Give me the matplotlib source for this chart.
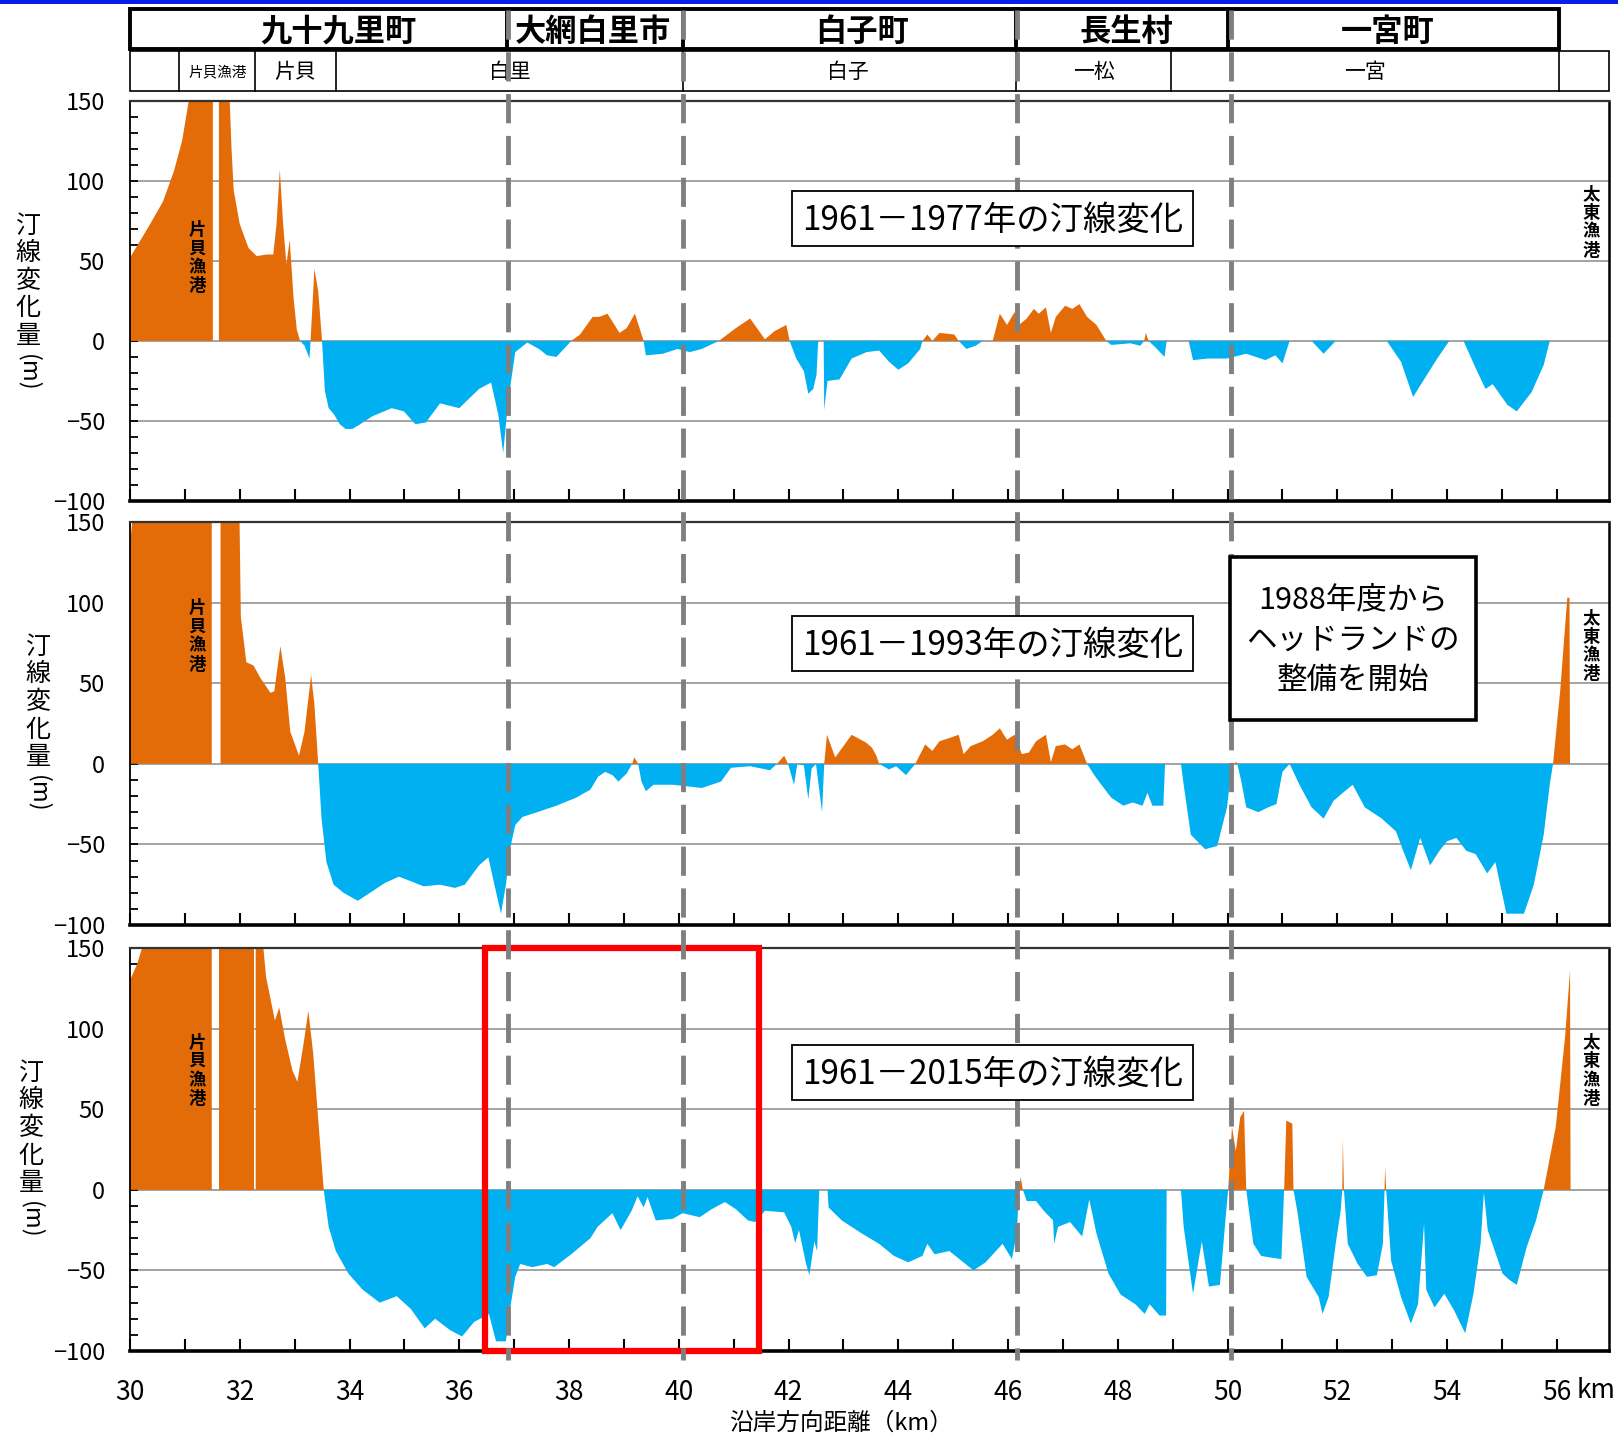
#!/usr/bin/env python3

import numpy as np
import matplotlib
matplotlib.use('Agg')
import matplotlib.pyplot as plt
from matplotlib.patches import Rectangle
from matplotlib.ticker import MultipleLocator

plt.rcParams['font.family'] = ['Noto Sans CJK JP', 'DejaVu Sans']

nan = np.nan

# shoreline change (m) along the coast (km), 1961-1977
km_1977 = [30.00, 30.35, 30.60, 30.80, 30.95, 31.07, 31.15, 31.51, 31.52, 31.62, 31.80, 31.85,
           31.89, 32.00, 32.16, 32.31, 32.49, 32.61, 32.67, 32.73, 32.79, 32.85, 32.91, 32.94,
           32.98, 33.04, 33.10, 33.18, 33.27, 33.29, 33.36, 33.43, 33.50, 33.55, 33.62, 33.72,
           33.82, 33.93, 34.05, 34.15, 34.42, 34.77, 34.99, 35.20, 35.39, 35.65, 36.00, 36.36,
           36.58, 36.71, 36.80, 36.89, 37.02, 37.24, 37.45, 37.60, 37.77, 38.04, 38.20, 38.43,
           38.55, 38.70, 38.92, 39.05, 39.20, 39.36, 39.40, 39.71, 39.98, 40.20, 40.42, 40.73,
           41.04, 41.30, 41.57, 41.74, 41.96, 42.02, 42.14, 42.28, 42.36, 42.45, 42.51, 42.54,
           42.64, 42.65, 42.71, 42.93, 43.15, 43.42, 43.65, 43.83, 44.00, 44.18, 44.40, 44.44,
           44.53, 44.62, 44.75, 45.02, 45.10, 45.24, 45.41, 45.54, 45.72, 45.85, 45.98, 46.12,
           46.20, 46.34, 46.47, 46.56, 46.69, 46.78, 46.87, 47.04, 47.17, 47.30, 47.44, 47.61,
           47.79, 47.88, 48.23, 48.41, 48.48, 48.51, 48.56, 48.67, 48.85, 48.89, 49.29, 49.37,
           49.64, 49.99, 50.34, 50.69, 50.87, 51.00, 51.13, 51.53, 51.75, 51.97, 52.90, 53.16,
           53.38, 53.60, 53.82, 54.04, 54.30, 54.52, 54.70, 54.83, 55.10, 55.27, 55.54, 55.76,
           55.87]
dy_1977 = [52, 72, 87, 106, 125, 150, 165, 165, nan, 165, 165, 120,
           94, 73, 58, 53, 54, 54, 73, 107, 73, 48, 63, 48,
           27, 7, 0, -3, -11, 0, 45, 31, 0, -31, -42, -46,
           -52, -55, -55, -53, -47, -42, -44, -52, -51, -39, -42, -30,
           -26, -46, -70, -38, -7, -1, -5, -9, -10, 0, 4, 15,
           15, 17, 5, 8, 17, 0, -9, -8, -5, -7, -5, 0,
           8, 14, 1, 6, 10, 0, -11, -19, -33, -30, -21, 0,
           0, -43, -25, -24, -11, -7, -6, -13, -18, -14, -5, 0,
           4, 0, 5, 4, 0, -5, -3, 0, 0, 17, 10, 18,
           10, 14, 20, 17, 21, 5, 15, 22, 20, 23, 15, 10,
           0, -2.5, -1.5, -3, 0, 5, 0, -3.5, -10, 0, 0, -12,
           -11, -11, -8, -12, -9, -14, 0, 0, -8, 0, 0, -13,
           -35, -23, -11, 0, 0, -17, -30, -27, -40, -44, -32, -15,
           0]

# 1961-1993
km_1993 = [30.00, 30.04, 30.08, 31.49, 31.50, 31.65, 31.99, 32.02, 32.12, 32.25, 32.38, 32.56,
           32.63, 32.74, 32.83, 32.92, 33.08, 33.18, 33.30, 33.36, 33.43, 33.49, 33.58, 33.71,
           33.89, 34.15, 34.42, 34.64, 34.90, 35.13, 35.35, 35.65, 35.92, 36.10, 36.36, 36.53,
           36.64, 36.76, 36.85, 36.93, 37.02, 37.15, 37.42, 37.77, 38.13, 38.39, 38.53, 38.66,
           38.79, 38.90, 39.05, 39.15, 39.19, 39.26, 39.32, 39.40, 39.54, 39.89, 40.16, 40.42,
           40.77, 40.95, 41.30, 41.66, 41.79, 41.92, 41.99, 42.10, 42.16, 42.28, 42.36, 42.42,
           42.50, 42.61, 42.65, 42.70, 42.85, 42.98, 43.15, 43.42, 43.52, 43.60, 43.65, 43.83,
           43.96, 44.14, 44.31, 44.49, 44.62, 44.75, 44.93, 45.10, 45.19, 45.32, 45.54, 45.72,
           45.85, 45.98, 46.12, 46.25, 46.38, 46.51, 46.69, 46.78, 46.87, 47.04, 47.17, 47.30,
           47.44, 47.57, 47.70, 47.88, 48.10, 48.27, 48.45, 48.54, 48.63, 48.83, 48.86, 49.15,
           49.20, 49.33, 49.59, 49.81, 49.99, 50.08, 50.17, 50.25, 50.34, 50.56, 50.74, 50.89,
           51.00, 51.13, 51.31, 51.53, 51.75, 51.93, 52.10, 52.28, 52.50, 52.81, 53.07, 53.20,
           53.34, 53.51, 53.69, 53.86, 54.00, 54.17, 54.35, 54.52, 54.73, 54.88, 55.08, 55.40,
           55.58, 55.76, 55.87, 55.93, 56.06, 56.19, 56.23, 56.24]
dy_1993 = [136, 150, 165, 165, nan, 165, 165, 91, 63, 61, 53, 44,
           45, 73, 53, 20, 5, 20, 55, 37, 0, -34, -61, -75,
           -80, -85, -79, -74, -70, -73, -76, -75, -77, -75, -63, -58,
           -75, -93, -75, -52, -38, -33, -30, -26, -21, -16, -8, -5,
           -7, -11, -6, 0, 4, 0, -11, -17, -13, -13, -14, -15,
           -11, -2.5, -1.5, -4, 0, 5, 0, -13, 0, -1, -22, -3,
           0, -30, 0, 18, 4, 10, 18, 13, 10, 5, 0, -3.5,
           -1.5, -7, 0, 12, 8, 14, 16, 18, 6, 11, 14, 18,
           22, 15, 18, 6, 7, 14, 18, 1, 11, 12, 9, 12,
           0, -7, -13, -21, -26, -24, -26, -18, -26, -26, 0, 0,
           -13, -44, -53, -51, -27, 0, 1, -11, -27, -30, -27, -25,
           -5, 0, -13, -27, -34, -23, -18, -13, -27, -34, -42, -54,
           -66, -46, -63, -54, -48, -46, -54, -56, -68, -61, -93, -93,
           -75, -44, -13, 0, 45, 103, 103, 0]

# 1961-2015
km_2015 = [30.00, 30.13, 30.22, 30.28, 31.49, 31.50, 31.63, 32.255, 32.265, 32.29, 32.39, 32.48,
           32.64, 32.72, 32.83, 32.96, 33.05, 33.16, 33.25, 33.34, 33.44, 33.53, 33.62, 33.75,
           33.98, 34.24, 34.55, 34.86, 35.12, 35.37, 35.56, 35.83, 36.05, 36.27, 36.54, 36.67,
           36.85, 36.93, 37.02, 37.11, 37.33, 37.60, 37.73, 38.04, 38.39, 38.52, 38.79, 38.94,
           39.14, 39.25, 39.36, 39.43, 39.58, 39.89, 40.07, 40.38, 40.60, 40.84, 41.04, 41.26,
           41.39, 41.57, 41.92, 42.05, 42.12, 42.19, 42.32, 42.38, 42.47, 42.52, 42.56, 42.71,
           42.73, 42.97, 43.33, 43.65, 43.92, 44.18, 44.44, 44.53, 44.66, 44.93, 45.15, 45.37,
           45.59, 45.90, 46.07, 46.16, 46.20, 46.23, 46.27, 46.34, 46.51, 46.65, 46.82, 46.84,
           46.91, 47.13, 47.35, 47.48, 47.61, 47.83, 48.05, 48.32, 48.49, 48.58, 48.76, 48.88,
           48.89, 49.15, 49.20, 49.37, 49.53, 49.66, 49.86, 49.95, 50.01, 50.08, 50.15, 50.23,
           50.30, 50.34, 50.39, 50.47, 50.61, 50.78, 50.98, 51.03, 51.07, 51.18, 51.20, 51.27,
           51.44, 51.66, 51.73, 51.84, 51.97, 52.06, 52.09, 52.10, 52.12, 52.19, 52.37, 52.54,
           52.72, 52.83, 52.86, 52.87, 52.89, 52.98, 53.16, 53.34, 53.47, 53.58, 53.62, 53.77,
           53.95, 54.13, 54.33, 54.48, 54.61, 54.67, 54.74, 54.88, 55.01, 55.14, 55.27, 55.45,
           55.62, 55.76, 55.98, 56.15, 56.24, 56.25]
dy_2015 = [130, 140, 150, 165, 165, nan, 165, 165, nan, 165, 165, 132,
           105, 113, 93, 74, 67, 90, 111, 84, 39, 0, -23, -38,
           -52, -62, -70, -66, -74, -86, -80, -87, -91, -82, -77, -94,
           -94, -73, -54, -46, -48, -46, -48, -40, -30, -23, -14.5, -25,
           -13, -4, -11, -4.5, -19, -18, -14.5, -17, -12, -7.6, -12, -19,
           -20, -13, -14, -23, -33, -25, -46, -53, -32, -38, 0, 0,
           -11, -19, -27, -33.5, -41, -45, -41, -33.5, -40, -38, -44, -50,
           -45, -33.5, -43, -27, 0, 8, 0, -7, -7, -13, -19, -33.5,
           -23, -20, -29, -6, -27, -52, -65, -71, -77, -71, -78, -78,
           0, 0, -23, -64.5, -32, -60, -59, -23, 0, 39, 24, 45,
           49, 0, -13, -33.5, -41, -42, -43, 0, 43, 41, 0, -13,
           -54, -66.5, -77, -66.5, -33.5, -13, 0, 32, 0, -33.5, -46, -54,
           -53, -33.5, 0, 14, 0, -44, -66.5, -83, -71, -21, -62, -73,
           -64.5, -75, -89, -64.5, -33.5, -1.5, -25, -39, -52, -56, -59, -35.5,
           -19, 0, 39, 95, 136, 0]

series = [(km_1977, dy_1977), (km_1993, dy_1993), (km_2015, dy_2015)]
titles = ['1961－1977年の汀線変化', '1961－1993年の汀線変化', '1961－2015年の汀線変化']

# header (municipalities / districts)
towns = ['九十九里町', '大網白里市', '白子町', '長生村', '一宮町']
town_x = [33.8, 38.44, 43.33, 48.16, 52.92]
town_edges = [30.0, 36.87, 40.07, 46.15, 50.0, 56.04]
districts = ['片貝漁港', '片貝', '白里', '白子', '一松', '一宮']
district_x = [31.59, 33.0, 36.92, 43.09, 47.56, 52.5]
district_edges = [30.0, 30.89, 32.28, 33.75, 40.07, 46.15, 48.97, 56.04, 56.95]

boundary_km = [36.88, 40.08, 46.17, 50.06]
zoom_km = (36.46, 41.47)

ORANGE = '#E36C09'
BLUE = '#00B0F0'
GRID = '#9c9c9c'
DASH = '#7f7f7f'

W, H = 1618, 1439
XMIN, XMAX = 30, 56.95
LEFT, RIGHT = 130, 1609


def fx(px):
    return px / W


def fy(py):
    return 1 - py / H


fig = plt.figure(figsize=(W / 100, H / 100), dpi=100)

# blue bar along the very top
fig.add_artist(Rectangle((0, fy(4)), 1, 4 / H, transform=fig.transFigure,
                         color='#0a1ee6', lw=0))

panels_px = [(100.8, 501), (522, 925), (948, 1351)]
ylabel_x = [28, 38, 31]
axes = []
for i, ((top, bot), (km, dy)) in enumerate(zip(panels_px, series)):
    ax = fig.add_axes([fx(LEFT), fy(bot), (RIGHT - LEFT) / W, (bot - top) / H])
    x = np.array(km)
    y = np.array(dy, dtype=float)
    ax.fill_between(x, y, 0, where=y >= 0, interpolate=True, color=ORANGE, lw=0, zorder=2)
    ax.fill_between(x, y, 0, where=y <= 0, interpolate=True, color=BLUE, lw=0, zorder=2)
    for g in [-50, 0, 50, 100]:
        ax.axhline(g, color=GRID, lw=1.3, zorder=1)
    ax.set_xlim(XMIN, XMAX)
    ax.set_ylim(-100, 150)

    ax.set_yticks([-100, -50, 0, 50, 100, 150])
    ax.yaxis.set_minor_locator(MultipleLocator(10))
    ax.tick_params(axis='y', which='both', direction='in', length=6, width=1.3,
                   labelsize=17, pad=18)
    ax.set_xticks(range(30, 57, 2))
    ax.set_xticks(range(31, 57, 2), minor=True)
    ax.tick_params(axis='x', which='both', direction='in', length=9, width=1.5,
                   labelsize=19, pad=20, labelbottom=(i == 2))

    for side, lw, col in [('left', 1.3, 'black'), ('top', 1.6, '#333333'),
                          ('right', 1.8, 'black'), ('bottom', 2.6, 'black')]:
        ax.spines[side].set_linewidth(lw)
        ax.spines[side].set_color(col)

    # fishing port labels
    ax.text(31.22, [52, 79, 74][i], '片\n貝\n漁\n港', ha='center', va='center',
            fontsize=12.5, fontweight='bold', linespacing=1.05, zorder=5)
    ax.text(56.63, [74, 73, 74][i], '太\n東\n漁\n港', ha='center', va='center',
            fontsize=12.5, fontweight='bold', linespacing=1.05, zorder=5)

    # y label, stacked vertically
    fig.text(fx(ylabel_x[i]), fy(top + 180), '汀\n線\n変\n化\n量', ha='center', va='center',
             fontsize=18, linespacing=1.08)
    fig.text(fx(ylabel_x[i]), fy(top + 272), '(m)', ha='center', va='center',
             fontsize=17, rotation=270)
    axes.append(ax)

ax3 = axes[2]
ax3.add_patch(Rectangle((zoom_km[0], 0), zoom_km[1] - zoom_km[0], 1,
                        transform=ax3.get_xaxis_transform(), fill=False,
                        ec='#ff0000', lw=4.5, clip_on=False, zorder=6))

fig.text(fx(1596), fy(1390), 'km', ha='center', va='center', fontsize=19)
fig.text(fx(841), fy(1423), '沿岸方向距離（km）', ha='center', va='center', fontsize=17)

# header table
hax = fig.add_axes([fx(LEFT), fy(91), (RIGHT - LEFT) / W, 83 / H])
hax.set_xlim(XMIN, XMAX)
hax.set_ylim(0, 2)
hax.axis('off')
hax.add_patch(Rectangle((town_edges[0], 1.02), town_edges[-1] - town_edges[0], 0.96,
                        fill=False, ec='black', lw=2.8, clip_on=False))
for e in town_edges[1:-1]:
    hax.plot([e, e], [1.02, 1.98], color='black', lw=2.8, clip_on=False)
for name, xc in zip(towns, town_x):
    hax.text(xc, 1.43, name, ha='center', va='center', fontsize=22.5, fontweight='bold')
hax.add_patch(Rectangle((district_edges[0], 0.0), district_edges[-1] - district_edges[0], 0.97,
                        fill=False, ec='black', lw=1.2, clip_on=False))
for e in district_edges[1:-1]:
    hax.plot([e, e], [0.0, 0.97], color='black', lw=1.2, clip_on=False)
for name, xc in zip(districts, district_x):
    fs = 10.5 if len(name) > 2 else 15
    hax.text(xc, 0.45, name, ha='center', va='center', fontsize=fs)

# overlay: dashed boundaries and text boxes (x in km, y in pixels)
span = (XMAX - XMIN) / ((RIGHT - LEFT) / W)
ov = fig.add_axes([0, 0, 1, 1])
ov.set_xlim(XMIN - fx(LEFT) * span, XMIN + (1 - fx(LEFT)) * span)
ov.set_ylim(H, 0)
ov.axis('off')
for b in boundary_km:
    ov.plot([b, b], [10, 1360], color=DASH, lw=3.5, ls=(0, (6, 2.6)), zorder=2)


def px2km(px):
    return XMIN + (px - LEFT) / (RIGHT - LEFT) * (XMAX - XMIN)


box_tops = [191, 616, 1045]
for t, top in zip(titles, box_tops):
    ov.add_patch(Rectangle((px2km(792), top), px2km(1193) - px2km(792), 55,
                           fc='white', ec='black', lw=1.3, zorder=5))
    ov.text(px2km(992.5), top + 29, t, ha='center', va='center', fontsize=24, zorder=6)

ov.add_patch(Rectangle((px2km(1230), 557), px2km(1476) - px2km(1230), 163,
                       fc='white', ec='black', lw=2.6, zorder=5))
ov.text(px2km(1353), 640, '1988年度から\nヘッドランドの\n整備を開始', ha='center', va='center',
        fontsize=22, linespacing=1.4, zorder=6)

plt.savefig('out.png', dpi=100)
